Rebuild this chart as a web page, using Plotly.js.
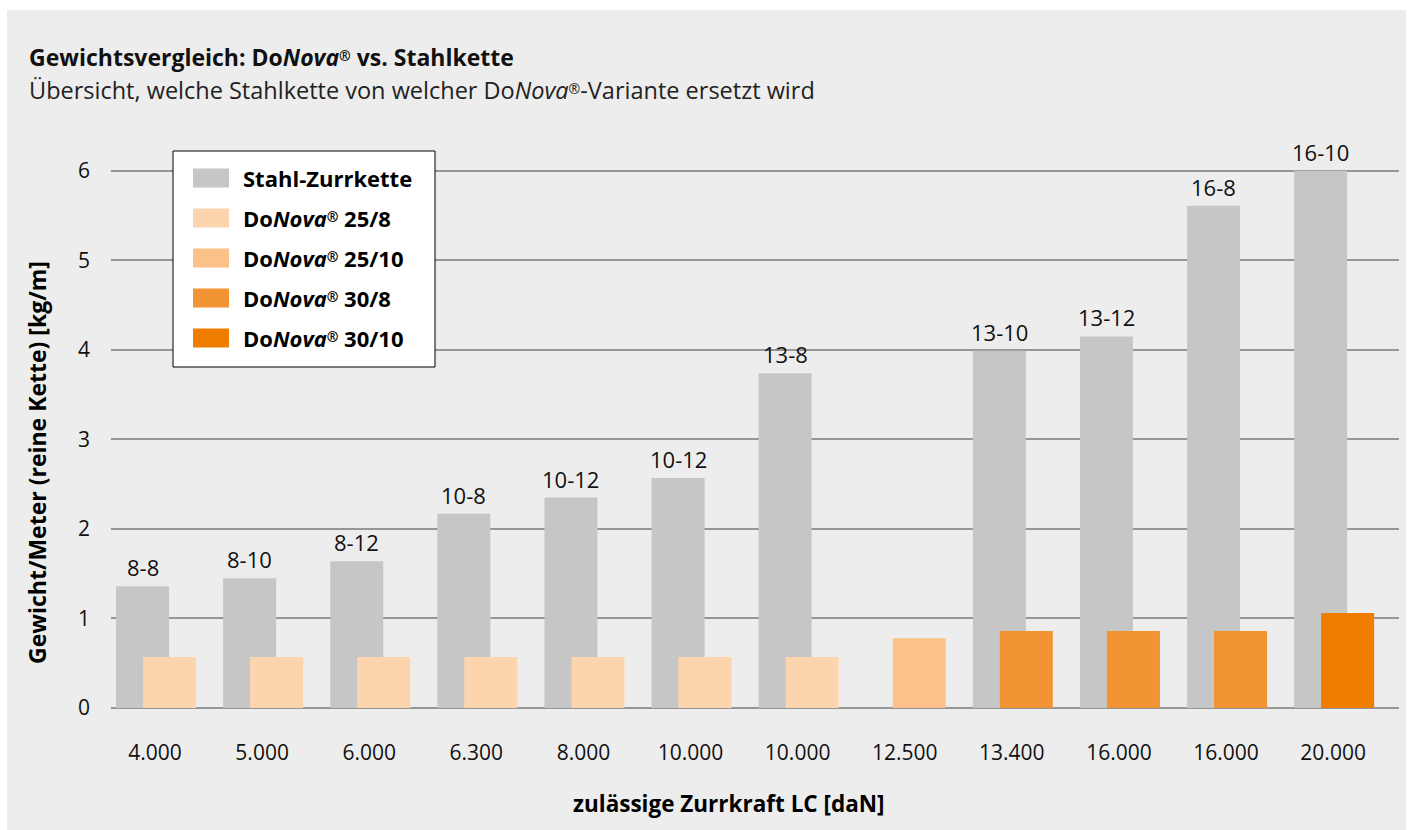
<!DOCTYPE html>
<html>
<head>
<meta charset="utf-8">
<script src="https://cdn.plot.ly/plotly-3.0.1.min.js"></script>
<style>
  html, body { margin: 0; padding: 0; background: #ffffff; }
  #chart { position: absolute; left: 7px; top: 10px; width: 1399px; height: 820px; }
</style>
</head>
<body>
<div id="chart"></div>
<script>
// ---- data ----
const categories = ['4.000','5.000','6.000','6.300','8.000','10.000','10.000','12.500','13.400','16.000','16.000','20.000'];
const steelLabels = ['8-8','8-10','8-12','10-8','10-12','10-12','13-8','','13-10','13-12','16-8','16-10'];
const steelWeight = [1.36, 1.45, 1.64, 2.17, 2.35, 2.57, 3.74, null, 3.99, 4.15, 5.61, 6.00];
const donova25_8  = [0.57, 0.57, 0.57, 0.57, 0.57, 0.57, 0.57, null, null, null, null, null];
const donova25_10 = [null, null, null, null, null, null, null, 0.78, null, null, null, null];
const donova30_8  = [null, null, null, null, null, null, null, null, 0.86, 0.86, 0.86, null];
const donova30_10 = [null, null, null, null, null, null, null, null, null, null, null, 1.06];

const REG = '<span style="font-size:14px;baseline-shift:35%">®</span>';
const seriesNames = ['Stahl-Zurrkette', 'Do<i>Nova</i>' + REG + ' 25/8', 'Do<i>Nova</i>' + REG + ' 25/10', 'Do<i>Nova</i>' + REG + ' 30/8', 'Do<i>Nova</i>' + REG + ' 30/10'];
const seriesColors = ['#c6c6c6', '#fcd5ae', '#fbc189', '#f29433', '#ef7d00'];
const seriesValues = [steelWeight, donova25_8, donova25_10, donova30_8, donova30_10];

const FONT = 'Open Sans, Noto Sans, sans-serif';
const xIdx = categories.map((_, i) => i);

// ---- layout helpers (pixel -> paper) ----
const PLOT_L = 111, PLOT_W = 1288, PLOT_B = 708, PLOT_H = 539;
const px = v => (v - PLOT_L) / PLOT_W;
const py = v => (PLOT_B - v) / PLOT_H;

const BAR_W = 0.495;
const OFFSETS = [-0.364, -0.112, -0.112, -0.112, -0.112];

const traces = seriesValues.map((vals, i) => ({
  type: 'bar',
  name: seriesNames[i],
  x: xIdx,
  y: vals,
  width: BAR_W,
  offset: OFFSETS[i],
  marker: { color: seriesColors[i], line: { width: 0 } },
  showlegend: false,
  hoverinfo: 'y+name'
}));

const shapes = [{
  type: 'rect', xref: 'paper', yref: 'paper',
  x0: px(173), x1: px(435), y0: py(367), y1: py(151),
  fillcolor: '#ffffff', line: { color: '#000000', width: 1 }, layer: 'above'
}];
const annotations = [
  { xref: 'paper', yref: 'paper', x: px(27), y: py(57), xanchor: 'left', yanchor: 'middle', showarrow: false,
    text: '<b>Gewichtsvergleich: Do<i>Nova</i>' + REG + ' vs. Stahlkette</b>', font: { family: FONT, size: 23, color: '#111111' } },
  { xref: 'paper', yref: 'paper', x: px(27), y: py(90), xanchor: 'left', yanchor: 'middle', showarrow: false,
    text: 'Übersicht, welche Stahlkette von welcher Do<i>Nova</i>' + REG + '-Variante ersetzt wird', font: { family: FONT, size: 23.5, color: '#222222' } },
  // axis titles
  { xref: 'paper', yref: 'paper', x: px(37), y: py(463), xanchor: 'center', yanchor: 'middle', showarrow: false, textangle: -90,
    text: '<b>Gewicht/Meter (reine Kette) [kg/m]</b>', font: { family: FONT, size: 23, color: '#000000' } },
  { xref: 'paper', yref: 'paper', x: px(729), y: py(803), xanchor: 'center', yanchor: 'middle', showarrow: false,
    text: '<b>zulässige Zurrkraft LC [daN]</b>', font: { family: FONT, size: 22.5, color: '#000000' } }
];
// labels above steel bars (data coordinates)
steelWeight.forEach((v, i) => {
  if (v === null || !steelLabels[i]) return;
  annotations.push({
    xref: 'x', yref: 'y', x: xIdx[i] + OFFSETS[0] + BAR_W / 2, y: v,
    xanchor: 'center', yanchor: 'bottom', yshift: 2, showarrow: false,
    text: steelLabels[i], font: { family: FONT, size: 22, color: '#111111' }
  });
});
// legend
seriesNames.forEach((name, i) => {
  const cy = 178 + i * 40;
  shapes.push({
    type: 'rect', xref: 'paper', yref: 'paper',
    x0: px(193), x1: px(229), y0: py(cy + 9.5), y1: py(cy - 9.5),
    fillcolor: seriesColors[i], line: { width: 0 }, layer: 'above'
  });
  annotations.push({
    xref: 'paper', yref: 'paper', x: px(241), y: py(cy), xanchor: 'left', yanchor: 'middle', showarrow: false,
    text: '<b>' + name + '</b>', font: { family: FONT, size: 22, color: '#000000' }
  });
});

const layout = {
  width: 1399, height: 820,
  paper_bgcolor: '#ededed', plot_bgcolor: '#ededed',
  margin: { l: 104, r: 7, t: 159, b: 122 },
  barmode: 'overlay',
  font: { family: FONT, size: 21, color: '#111111' },
  xaxis: {
    type: 'linear',
    range: [-0.411, 11.615],
    tickvals: xIdx, ticktext: categories,
    showgrid: false, zeroline: false, showline: false,
    ticks: '', ticklabelstandoff: 30,
    tickfont: { family: FONT, size: 21, color: '#111111' }
  },
  yaxis: {
    range: [0, 6.02],
    tickvals: [0, 1, 2, 3, 4, 5, 6],
    showgrid: true, gridcolor: '#969696', gridwidth: 2,
    zeroline: true, zerolinecolor: '#969696', zerolinewidth: 2,
    showline: false, ticks: '', ticklabelstandoff: 20,
    tickfont: { family: FONT, size: 21, color: '#111111' }
  },
  shapes: shapes,
  annotations: annotations
};

Plotly.newPlot('chart', traces, layout, { displayModeBar: false, staticPlot: true });
</script>
</body>
</html>
